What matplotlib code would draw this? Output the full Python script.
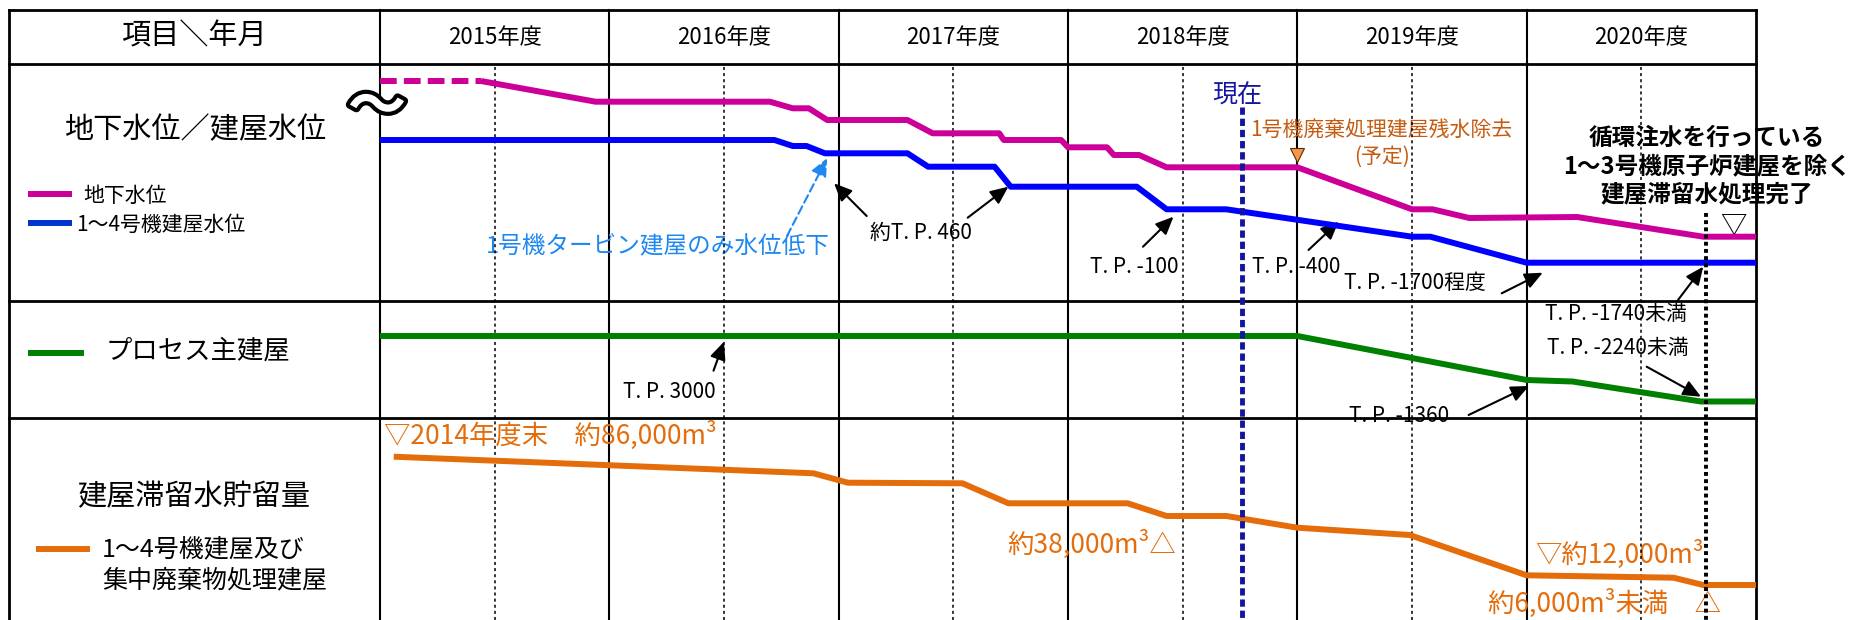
import matplotlib
matplotlib.use("Agg")
import matplotlib.pyplot as plt
import matplotlib.patheffects as pe

plt.rcParams['font.family'] = ['Noto Sans CJK JP', 'DejaVu Sans']

W, H = 1854, 620

years = ['2015年度', '2016年度', '2017年度', '2018年度', '2019年度', '2020年度']
fy0 = 2015

# schematic levels: depth below the header line (the chart is not to scale)
# 地下水位
gw_dash_t = [2015.00, 2015.44]
gw_dash_lv = [17, 17]
gw_t = [2015.44, 2015.94, 2016.70, 2016.80, 2016.87, 2016.95, 2017.30, 2017.41,
        2017.70, 2017.72, 2017.97, 2018.00, 2018.17, 2018.20, 2018.31, 2018.43,
        2019.00, 2019.50, 2019.59, 2019.75, 2020.22, 2020.77, 2021.00]
gw_lv = [17, 37.7, 37.7, 44.3, 44.3, 56, 56, 69.3,
         69.3, 76, 76, 83.3, 83.3, 91, 91, 103.3,
         103.3, 145.3, 145.3, 154, 153, 172.7, 172.7]

# 1～4号機建屋水位
bld_t = [2015.00, 2016.72, 2016.80, 2016.86, 2016.94, 2017.30, 2017.39, 2017.68,
         2017.75, 2018.30, 2018.43, 2018.69, 2019.50, 2019.58, 2020.00, 2021.00]
bld_lv = [76, 76, 82, 82, 89.3, 89.3, 102.7, 102.7,
          122.7, 122.7, 145.3, 145.3, 172.7, 172.7, 198.7, 198.7]

# プロセス主建屋
proc_t = [2015.00, 2019.00, 2020.00, 2020.20, 2020.76, 2021.00]
proc_lv = [272, 272, 316, 317.5, 337.5, 337.5]

# 建屋滞留水貯留量
store_t = [2015.06, 2016.89, 2017.04, 2017.54, 2017.74, 2018.26, 2018.43, 2018.69,
           2019.00, 2019.49, 2020.00, 2020.64, 2020.77, 2021.00]
store_lv = [392.7, 409.3, 418.7, 419.3, 439.3, 439.3, 452, 452,
            463.7, 471, 511.3, 513.7, 521, 521]

now_t, now_lv = 2018.76, 43       # 現在
done_t, done_lv = 2020.78, 149    # 建屋滞留水処理完了
plan_t, plan_lv = 2019.00, 91     # 1号機廃棄処理建屋残水除去(予定)

MAG = '#CC0099'
BLU = '#0000FF'
GRN = '#008000'
ORG = '#E46C0A'
NAVY = '#1414A0'
LBLU = '#1E88F0'
BRN = '#C55A11'

# table frame (pixels)
left, col0, right = 9, 380, 1756
top, head, row1, row2 = 10, 64, 300.5, 418
colw = (right - col0) / len(years)


def xpx(t):
    return col0 + (t - fy0) * colw


fig = plt.figure(figsize=(W / 100, H / 100), dpi=100)
bg = fig.add_axes([0, 0, 1, 1])
bg.set_xlim(0, W)
bg.set_ylim(H, 0)
bg.axis('off')

ax = fig.add_axes([col0 / W, 0, (right - col0) / W, 1 - head / H])
ax.set_xlim(fy0, fy0 + len(years))
ax.set_ylim(H - head, 0)
ax.axis('off')

# grid of the table
for y in [top, head, row1, row2]:
    bg.plot([left, right], [y, y], color='black', lw=2, solid_capstyle='projecting')
for x in [left, right]:
    bg.plot([x, x], [top, H], color='black', lw=2)
for i in range(len(years)):
    bg.plot([xpx(fy0 + i)] * 2, [top, H], color='black', lw=1.5)
    bg.text(xpx(fy0 + i + 0.5), (top + head) / 2, years[i], ha='center', va='center', fontsize=16)
    ax.axvline(fy0 + i + 0.5, color='black', lw=1.1, ls=(0, (2, 2)), zorder=1)

# left column
bg.text(194, 36, '項目＼年月', ha='center', va='center', fontsize=21)
bg.text(195, 130, '地下水位／建屋水位', ha='center', va='center', fontsize=21)
bg.plot([28.5, 72.4], [194.3] * 2, color=MAG, lw=4.3, solid_capstyle='butt')
bg.text(83, 195.5, '地下水位', ha='left', va='center', fontsize=15)
bg.plot([28.5, 72.4], [223] * 2, color='#0033CC', lw=4.3, solid_capstyle='butt')
bg.text(76, 225, '1～4号機建屋水位', ha='left', va='center', fontsize=15)
bg.plot([28.5, 84], [352.7] * 2, color=GRN, lw=4.3, solid_capstyle='butt')
bg.text(105.6, 351.5, 'プロセス主建屋', ha='left', va='center', fontsize=19)
bg.text(194, 497.5, '建屋滞留水貯留量', ha='center', va='center', fontsize=21)
bg.plot([35.6, 90], [549] * 2, color=ORG, lw=4.3, solid_capstyle='butt')
bg.text(102, 549, '1～4号機建屋及び', ha='left', va='center', fontsize=18)
bg.text(102, 580, '集中廃棄物処理建屋', ha='left', va='center', fontsize=18)

# series
kw = dict(lw=4.3, solid_capstyle='butt', zorder=3)
ax.plot(gw_dash_t, gw_dash_lv, color=MAG, lw=4.3, ls=(0, (2.8, 1.2)), zorder=3)
ax.plot(gw_t, gw_lv, color=MAG, **kw)
ax.plot(bld_t, bld_lv, color=BLU, **kw)
ax.plot(proc_t, proc_lv, color=GRN, **kw)
ax.plot(store_t, store_lv, color=ORG, **kw)

ax.plot([now_t, now_t], [now_lv, H - head], color=NAVY, lw=3.5, ls=(0, (1.5, 0.8)), zorder=5)
ax.plot([done_t, done_t], [done_lv, H - head], color='black', lw=2.8, ls=(0, (1.0, 0.85)), zorder=5)
ax.plot([plan_t], [plan_lv], marker='v', ms=10, mfc='#F79646', mec='#5A2D00', mew=0.8, zorder=6)

# break mark
bg.text(377, 108, '～', ha='center', va='center', fontsize=42, fontweight='bold', color='white', zorder=10,
        path_effects=[pe.withStroke(linewidth=6, foreground='black')])

# annotations
arrow = dict(arrowstyle='-|>,head_length=0.9,head_width=0.4', color='black', lw=1.5,
             shrinkA=0, shrinkB=0, mutation_scale=12)


def point(tip_t, tip_lv, tail_x, tail_y, props=arrow):
    bg.annotate('', xy=(tip_t, tip_lv), xycoords=ax.transData,
                xytext=(tail_x, tail_y), textcoords='data', arrowprops=props)


blue_arrow = dict(arrow, color=LBLU, linestyle=(0, (4, 2)))
point(2016.95, 94, 787, 236, blue_arrow)
bg.text(657.5, 247, '1号機タービン建屋のみ水位低下', ha='center', va='center', fontsize=17, color=LBLU)

point(2016.98, 119.3, 866.7, 216)
point(2017.74, 122.7, 967.7, 217.7)
bg.text(921, 233, '約T. P. 460', ha='center', va='center', fontsize=15)
point(2018.46, 152.7, 1143, 246.7)
bg.text(1134, 267, 'T. P. -100', ha='center', va='center', fontsize=15)
point(2019.18, 157.7, 1308.5, 250)
bg.text(1296, 267, 'T. P. -400', ha='center', va='center', fontsize=15)
point(2020.07, 208.7, 1501.7, 293.3)
bg.text(1415, 283, 'T. P. -1700程度', ha='center', va='center', fontsize=15)
point(2020.77, 202.7, 1678, 300)
bg.text(1616, 313.5, 'T. P. -1740未満', ha='center', va='center', fontsize=15)
point(2020.76, 332.7, 1646.7, 366.7)
bg.text(1618, 348, 'T. P. -2240未満', ha='center', va='center', fontsize=15)
point(2016.50, 277.7, 713.5, 370.7)
bg.text(669.6, 391.7, 'T. P. 3000', ha='center', va='center', fontsize=15)
point(2020.01, 322, 1468.6, 415)
bg.text(1398.6, 416, 'T. P. -1360', ha='center', va='center', fontsize=15)

bg.text(1237, 95.5, '現在', ha='center', va='center', fontsize=18, color=NAVY)
bg.text(1381, 130, '1号機廃棄処理建屋残水除去', ha='center', va='center', fontsize=15, color=BRN)
bg.text(1382, 156.5, '(予定)', ha='center', va='center', fontsize=15, color=BRN)

for y, s in [(137.5, '循環注水を行っている'), (166, '1～3号機原子炉建屋を除く'), (194, '建屋滞留水処理完了')]:
    bg.text(1707, y, s, ha='center', va='center', fontsize=17, fontweight='bold', zorder=10)
bg.text(1733, 226.5, '▽', ha='center', va='center', fontsize=19)

bg.text(384, 435, '▽2014年度末　約86,000m³', ha='left', va='center', fontsize=19, color=ORG)
bg.text(1092, 544, '約38,000m³△', ha='center', va='center', fontsize=19, color=ORG)
bg.text(1620, 554.7, '▽約12,000m³', ha='center', va='center', fontsize=19, color=ORG)
bg.text(1605, 603, '約6,000m³未満　△', ha='center', va='center', fontsize=19, color=ORG)

fig.savefig('out.png', dpi=100)
